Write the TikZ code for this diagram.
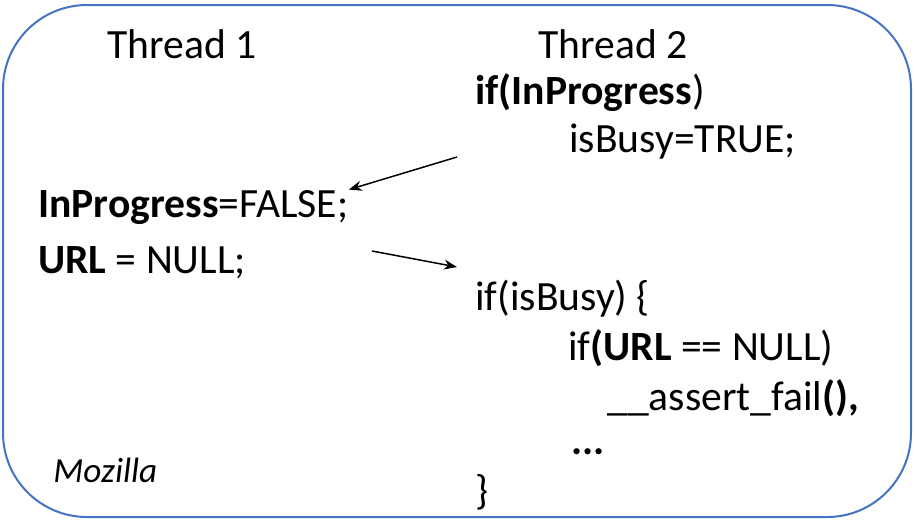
\documentclass[tikz,border=0pt]{standalone}
\usepackage{fontspec}
\setmainfont{Carlito}
\usepackage{xcolor}
\usetikzlibrary{arrows.meta}
\definecolor{frameblue}{RGB}{68,114,196}
\tikzset{
    code-frame/.style = {draw=frameblue, line width=1pt, rounded corners=42pt},
    code-line/.style = {anchor=base west, inner sep=0pt, font=\fontsize{20.8}{24}\selectfont},
    source-tag/.style = {anchor=base west, inner sep=0pt, font=\fontsize{17.6}{20}\selectfont\itshape},
    race-arrow/.style = {-{Stealth[length=6.5pt, width=5pt]}, line width=0.75pt},
}

\begin{document}
\begin{tikzpicture}[x=0.5pt, y=-0.5pt]
\useasboundingbox (0,0) rectangle (915,521);
\draw[code-frame] (3,5) rectangle (911,517);

% thread 1
\node[code-line] (t1title) at (107,58) {Thread 1};
\node[code-line] (unset) at (38,217) {\textbf{InProgress}=FALSE;};
\node[code-line] (clear) at (38,273) {\textbf{URL} = NULL;};
\node[source-tag] (origin) at (53,482) {Mozilla};

% thread 2
\node[code-line] (t2title) at (538,58) {Thread 2};
\node[code-line] (check) at (475,104) {\textbf{if(InProgress})};
\node[code-line] (busy) at (569,152) {isBusy=TRUE;};
\node[code-line] (test) at (475,310) {if(isBusy) \{};
\node[code-line] (urltest) at (568,360) {if\textbf{(URL} == NULL)};
\node[code-line] (fail) at (607,410) {\_\_assert\_fail\textbf{(),}};
\node[code-line] (more) at (571,454) {\textbf{...}};
\node[code-line] (close) at (475,504) {\}};

% interleaving
\coordinate (from2) at (457,157);
\coordinate (from1) at (372,251);
\coordinate (into2) at (457,267);
\draw[race-arrow] (from2) -- (unset.north east);
\draw[race-arrow] (from1) -- (into2);
\end{tikzpicture}
\end{document}
